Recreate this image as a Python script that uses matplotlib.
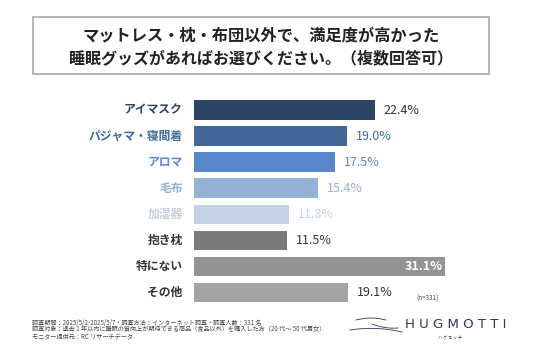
import numpy as np
import matplotlib
matplotlib.use('Agg')
from matplotlib import pyplot as plt
from matplotlib.patches import Rectangle

plt.rcParams['font.family'] = ['Noto Sans CJK JP', 'DejaVu Sans']

items = ['アイマスク', 'パジャマ・寝間着', 'アロマ', '毛布', '加湿器', '抱き枕', '特にない', 'その他']
values = [22.4, 19.0, 17.5, 15.4, 11.8, 11.5, 31.1, 19.1]
bar_colors = ['#2c4466', '#42679a', '#5888cb', '#94b1d6', '#c2d1e3', '#7a7a7a', '#939393', '#a4a4a4']
label_colors = ['#2c4466', '#42679a', '#5888cb', '#94b1d6', '#c2d1e3', '#333333', '#333333', '#333333']
value_colors = ['#333333', '#42679a', '#5888cb', '#94b1d6', '#c2d1e3', '#333333', 'white', '#333333']

W, H = 536, 357
def fx(x): return x / W
def fy(y): return 1 - y / H

fig = plt.figure(figsize=(W / 100, H / 100), dpi=100)
fig.patch.set_facecolor('white')

# title box
fig.patches.append(Rectangle((fx(33), fy(74)), fx(489) - fx(33), fy(17) - fy(74),
                             transform=fig.transFigure, fill=False,
                             edgecolor='#a8a8a8', linewidth=1.2))
fig.text(fx(261), fy(35), 'マットレス・枕・布団以外で、満足度が高かった',
         ha='center', va='center', fontsize=11.7, fontweight='bold', color='#222222')
fig.text(fx(261), fy(58), '睡眠グッズがあればお選びください。（複数回答可）',
         ha='center', va='center', fontsize=11.5, fontweight='bold', color='#222222')

ax = fig.add_axes([fx(194), fy(305.5), 0.6026, fy(97) - fy(305.5)])
y = np.arange(len(items))
ax.barh(y, values, height=0.75, color=bar_colors)
ax.set_xlim(0, 40)
ax.set_ylim(len(items) - 0.5, -0.5)
ax.axis('off')

for i, (name, v) in enumerate(zip(items, values)):
    ax.text(-1.4, i, name, ha='right', va='center', fontsize=8.5,
            fontweight='bold', color=label_colors[i])
    if i == 6:
        ax.text(v - 0.3, i, f'{v:.1f}%', ha='right', va='center', fontsize=9,
                fontweight='bold', color=value_colors[i])
    else:
        ax.text(v + 1.1, i, f'{v:.1f}%', ha='left', va='center', fontsize=9,
                color=value_colors[i])

fig.text(fx(428), fy(299), '(n=331)', ha='center', va='center', fontsize=4.5, color='#444444')

notes = ['調査期間：2025/5/2-2025/5/7・調査方法：インターネット調査・調査人数：331 名',
         '調査対象：過去 1 年以内に睡眠の質向上が期待できる商品（食品以外）を購入した方（20 代～ 50 代男女）',
         'モニター提供元：RC リサーチデータ']
for k, line in enumerate(notes):
    fig.text(fx(32), fy(323 + 6.5 * k), line, ha='left', va='center', fontsize=4.4, color='#444444')

# logo
fig.text(fx(456), fy(324), 'H U G M O T T I', ha='center', va='center',
         fontsize=9.5, color='#2b3a55', family=['DejaVu Sans'])
fig.text(fx(450), fy(338), 'ハ グ モ ッ チ', ha='center', va='center', fontsize=3, color='#2b3a55')
t = np.linspace(0, 1, 50)
fig.lines.append(plt.Line2D(fx(350 + 52 * t), fy(330 - 8 * t + 10 * t ** 2),
                            transform=fig.transFigure, color='#2b3a55', lw=0.6))
fig.lines.append(plt.Line2D(fx(356 + 30 * t), fy(320 - 2 * np.sin(np.pi * t)),
                            transform=fig.transFigure, color='#2b3a55', lw=0.6))
fig.lines.append(plt.Line2D(fx(372 + 26 * t), fy(324 + 10 * t - 6 * t ** 2),
                            transform=fig.transFigure, color='#2b3a55', lw=0.6))

fig.savefig('out.png', dpi=100)
